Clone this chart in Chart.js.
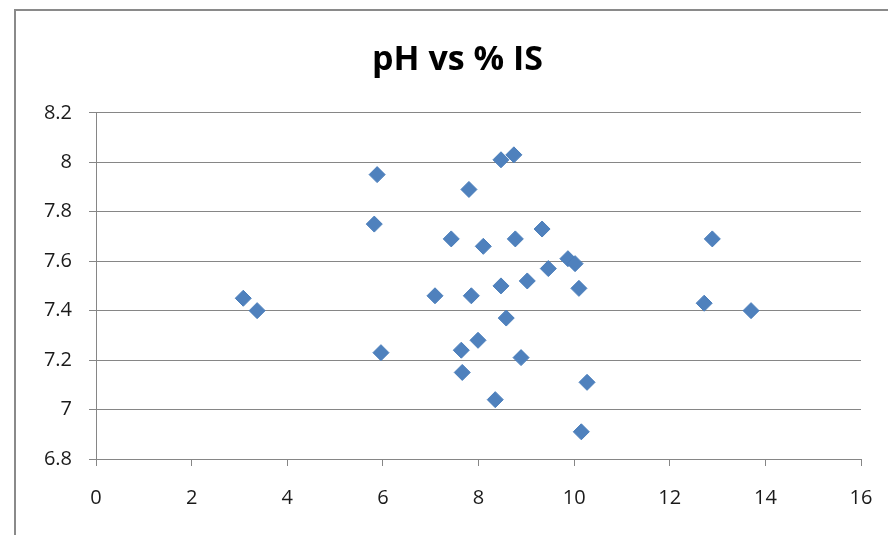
<!DOCTYPE html>
<html>
<head>
<meta charset="utf-8">
<script src="https://cdn.jsdelivr.net/npm/chart.js@4/dist/chart.umd.min.js"></script>
<style>
  html, body { margin: 0; padding: 0; background: #fff; overflow: hidden; }
  #wrap { width: 900px; height: 535px; position: relative; }
</style>
</head>
<body>
<div id="wrap"><canvas id="c" width="900" height="535"></canvas></div>
<script>
// Data
const isPercent = [3.08, 3.37, 5.88, 5.82, 5.96, 7.09, 7.43, 7.64, 7.66, 7.80, 7.85, 7.99, 8.10, 8.35, 8.47, 8.47, 8.58, 8.74, 8.77, 8.89, 9.02, 9.33, 9.46, 9.87, 10.02, 10.10, 10.15, 10.27, 12.72, 12.89, 13.70];
const phValues  = [7.45, 7.40, 7.95, 7.75, 7.23, 7.46, 7.69, 7.24, 7.15, 7.89, 7.46, 7.28, 7.66, 7.04, 8.01, 7.50, 7.37, 8.03, 7.69, 7.21, 7.52, 7.73, 7.57, 7.61, 7.59, 7.49, 6.91, 7.11, 7.43, 7.69, 7.40];
const xTicks = [0, 2, 4, 6, 8, 10, 12, 14, 16];
const yTicks = [6.8, 7, 7.2, 7.4, 7.6, 7.8, 8, 8.2];
const xTickLabels = ['0', '2', '4', '6', '8', '10', '12', '14', '16'];
const yTickLabels = ['6.8', '7', '7.2', '7.4', '7.6', '7.8', '8', '8.2'];
const chartTitle = 'pH vs % IS';

const points = isPercent.map((x, i) => ({ x: x, y: phValues[i] }));
const GRID = '#868686';
const TEXT = '#1a1a1a';
const tickFont = { family: 'Open Sans', size: 20 };

const bgPlugin = {
  id: 'bg',
  beforeDraw(chart) {
    const ctx = chart.ctx;
    ctx.save();
    ctx.fillStyle = '#ffffff';
    ctx.fillRect(0, 0, chart.width, chart.height);
    ctx.strokeStyle = '#8a8a8a';
    ctx.lineWidth = 2;
    ctx.strokeRect(15, 10, chart.width + 50, chart.height + 50);
    ctx.restore();
  }
};

new Chart(document.getElementById('c'), {
  type: 'scatter',
  data: {
    datasets: [{
      label: 'pH',
      data: points,
      pointStyle: 'rectRot',
      pointRadius: 8,
      pointHoverRadius: 8,
      backgroundColor: '#4F81BD',
      borderColor: '#4A7EBB',
      borderWidth: 1
    }]
  },
  plugins: [bgPlugin],
  options: {
    responsive: false,
    animation: false,
    events: [],
    layout: { padding: { left: 16, right: 1, top: 10, bottom: 25 } },
    plugins: {
      legend: { display: false },
      tooltip: { enabled: false },
      title: {
        display: true,
        text: chartTitle,
        color: '#000',
        font: { family: 'Open Sans', size: 34, weight: 'bold', lineHeight: 1.2 },
        padding: { top: 30, bottom: 32 }
      }
    },
    scales: {
      x: {
        type: 'linear',
        position: 'bottom',
        min: 0, max: 16,
        afterBuildTicks(scale) { scale.ticks = xTicks.map(v => ({ value: v })); },
        afterFit(scale) { scale.height = 51; },
        ticks: {
          color: TEXT, font: tickFont, padding: 20, maxRotation: 0, autoSkip: false,
          callback: (v) => xTickLabels[xTicks.indexOf(v)]
        },
        grid: { drawOnChartArea: false, drawTicks: true, tickLength: 7, color: GRID },
        border: { color: GRID, width: 1 }
      },
      y: {
        type: 'linear',
        position: 'left',
        min: 6.8, max: 8.2,
        afterBuildTicks(scale) { scale.ticks = yTicks.map(v => ({ value: v })); },
        afterFit(scale) { scale.width = 80; },
        ticks: {
          color: TEXT, font: tickFont, padding: 17, autoSkip: false,
          callback: (v) => yTickLabels[yTicks.findIndex(t => Math.abs(t - v) < 1e-9)]
        },
        grid: { drawOnChartArea: true, drawTicks: true, tickLength: 7, color: GRID },
        border: { color: GRID, width: 1 }
      },
      yPad: {
        type: 'linear',
        position: 'right',
        display: true,
        min: 0, max: 1,
        afterFit(scale) { scale.width = 38; },
        ticks: { display: false },
        grid: { display: false, drawTicks: false },
        border: { display: false }
      }
    }
  }
});
</script>
</body>
</html>
